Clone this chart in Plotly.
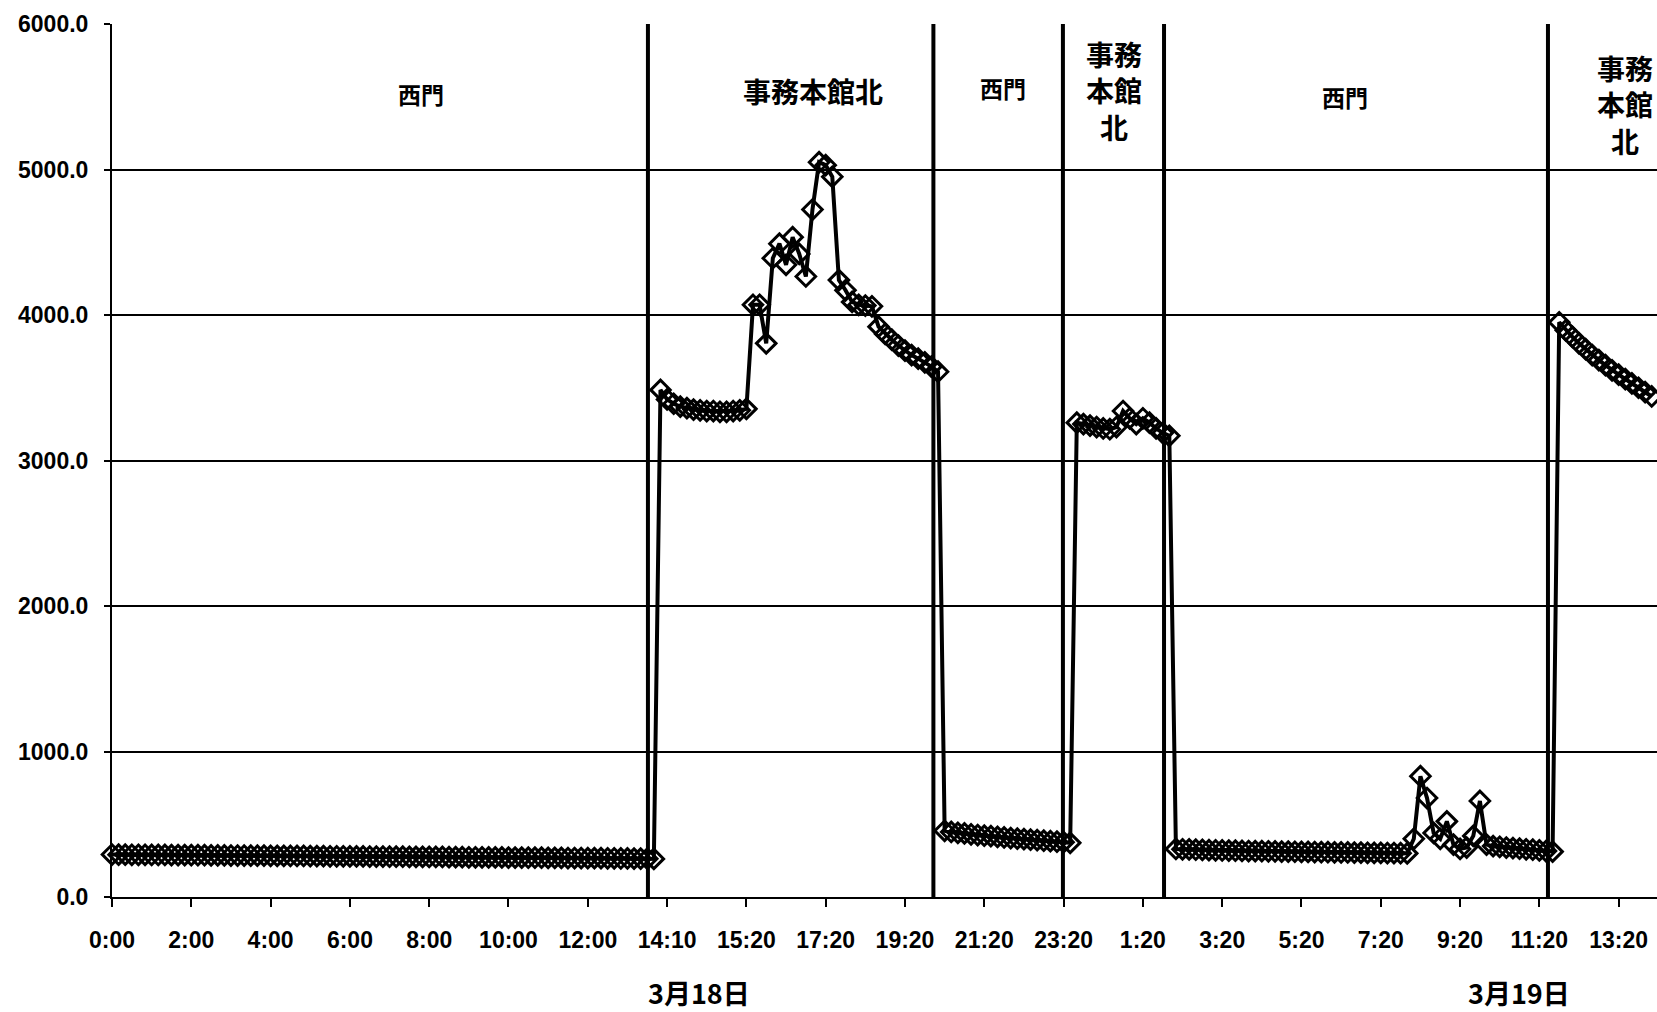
import plotly.graph_objects as go

# ---- data -------------------------------------------------------------
seg_west_1 = [292, 291, 291, 290, 290, 290, 289, 289, 289, 288,
              288, 288, 287, 287, 287, 286, 286, 286, 285, 285,
              285, 284, 284, 284, 283, 283, 283, 282, 282, 282,
              281, 281, 281, 280, 280, 280, 279, 279, 279, 278,
              278, 278, 277, 277, 277, 276, 276, 276, 275, 275,
              275, 274, 274, 274, 273, 273, 273, 272, 272, 272,
              271, 271, 271, 270, 270, 270, 269, 269, 269, 268,
              268, 268, 267, 267, 267, 266, 266, 265, 265, 264,
              264, 263, 262]
seg_office_1 = [3485, 3420, 3390, 3370, 3360, 3350, 3345, 3340, 3340, 3335,
                3335, 3340, 3345, 3355, 4070, 4070, 3805, 4390, 4490, 4345,
                4535, 4420, 4265, 4725, 5050, 5030, 4950, 4240, 4170, 4090,
                4070, 4065, 4060, 3920, 3870, 3830, 3790, 3755, 3725, 3700,
                3675, 3645, 3610]
seg_west_2 = [455, 447, 441, 437, 431, 426, 421, 418, 413, 409,
              405, 401, 398, 394, 391, 387, 384, 380, 377, 372]
seg_office_2 = [3260, 3250, 3240, 3230, 3220, 3215, 3230, 3340, 3290, 3250,
                3290, 3260, 3220, 3190, 3170]
seg_west_3 = [330, 328, 327, 325, 324, 322, 321, 320, 319, 318,
              317, 316, 315, 315, 314, 313, 312, 312, 311, 310,
              310, 309, 308, 308, 307, 306, 306, 305, 305, 304,
              303, 303, 302, 302, 301, 300,
              400, 830, 680, 440, 400, 520, 360, 330, 340, 420,
              660, 360, 350, 345, 340, 336, 332, 328, 325, 320,
              316, 312]
seg_office_3 = [3950, 3895, 3850, 3805, 3765, 3725, 3690, 3655, 3620, 3590,
                3560, 3530, 3500, 3470, 3440]

values = seg_west_1 + seg_office_1 + seg_west_2 + seg_office_2 + seg_west_3 + seg_office_3
x_index = list(range(len(values)))

tick_labels = ["0:00", "2:00", "4:00", "6:00", "8:00", "10:00", "12:00", "14:10",
               "15:20", "17:20", "19:20", "21:20", "23:20", "1:20", "3:20", "5:20",
               "7:20", "9:20", "11:20", "13:20"]
tick_step = 12
tick_positions = [i * tick_step for i in range(len(tick_labels))]

# segment dividers (category units) and segment labels
divider_positions = [81.1, 124.3, 143.9, 159.2, 217.3]
segment_names = ["西門", "事務本館北", "西門", "事務<br>本館<br>北", "西門", "事務<br>本館<br>北"]
segment_label_x = [46.8, 106.1, 134.8, 151.6, 186.6, 229.0]
segment_label_y = [5520, 5540, 5560, 5546, 5500, 5450]
segment_label_size = [23, 28, 23, 28, 23, 28]

date_labels = ["3月18日", "3月19日"]
date_label_x = [88.8, 212.9]

# ---- figure -----------------------------------------------------------
W, H = 1657, 1012
ML, MR, MT, MB = 112, 0, 24, 115

fig = go.Figure()
fig.add_trace(go.Scatter(
    x=x_index, y=values, mode="lines+markers",
    line=dict(color="black", width=4),
    marker=dict(symbol="diamond-open", size=15, color="black",
                line=dict(color="black", width=3)),
    cliponaxis=False, showlegend=False, hoverinfo="skip",
))

shapes = []
for xv in divider_positions:
    shapes.append(dict(type="line", xref="x", yref="y", x0=xv, x1=xv, y0=0, y1=6000,
                       line=dict(color="black", width=4)))

annotations = []
for name, xv, yv, fs in zip(segment_names, segment_label_x, segment_label_y, segment_label_size):
    annotations.append(dict(x=xv, y=yv, xref="x", yref="y", text=f"<b>{name}</b>",
                            showarrow=False, xanchor="center", yanchor="middle",
                            font=dict(family="Noto Sans CJK JP", size=fs, color="black")))
plot_h = H - MT - MB
for txt, xv in zip(date_labels, date_label_x):
    annotations.append(dict(x=xv, y=(897 - 992) / plot_h, xref="x", yref="paper",
                            text=f"<b>{txt}</b>", showarrow=False,
                            xanchor="center", yanchor="middle",
                            font=dict(family="Noto Sans CJK JP", size=27, color="black")))

fig.update_layout(
    width=W, height=H,
    margin=dict(l=ML, r=MR, t=MT, b=MB),
    paper_bgcolor="white", plot_bgcolor="white",
    shapes=shapes, annotations=annotations,
    xaxis=dict(range=[0, 233.8], tickmode="array", tickvals=tick_positions,
               ticktext=tick_labels, showgrid=False, zeroline=False,
               showline=True, linecolor="black", linewidth=2,
               ticks="outside", ticklen=8, tickwidth=2, tickcolor="black",
               ticklabelstandoff=13,
               tickfont=dict(family="Liberation Sans", size=23, color="black", weight="bold")),
    yaxis=dict(range=[0, 6000], dtick=1000, tick0=0, tickformat=".1f",
               showgrid=True, gridcolor="black", gridwidth=1.8, zeroline=False,
               showline=True, linecolor="black", linewidth=2,
               ticks="outside", ticklen=6, tickwidth=2, tickcolor="black",
               ticklabelstandoff=11,
               tickfont=dict(family="Liberation Sans", size=23, color="black", weight="bold")),
)

fig.write_html("out.html", config={"displayModeBar": False},
               post_script="document.body.style.margin='0px';document.body.style.overflow='hidden';")
